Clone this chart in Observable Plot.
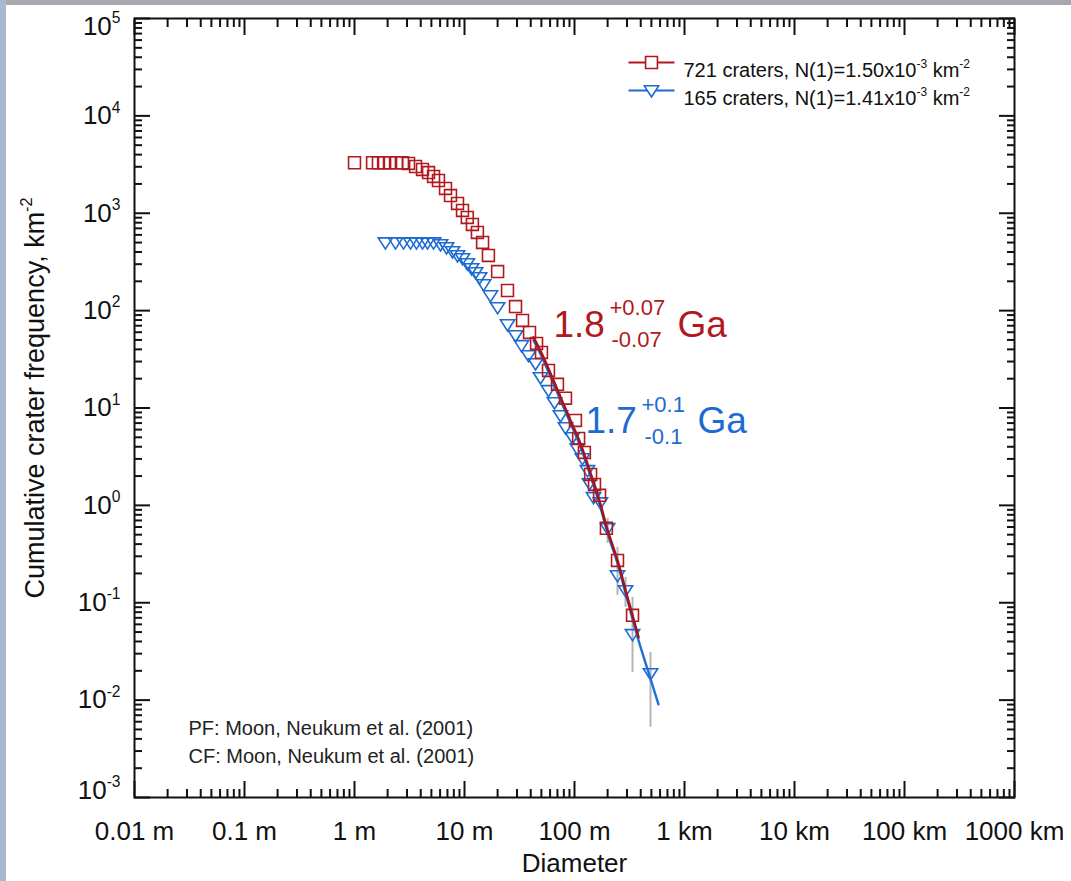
<!DOCTYPE html>
<html><head><meta charset="utf-8">
<script src="https://cdn.jsdelivr.net/npm/d3@7"></script>
<script src="https://cdn.jsdelivr.net/npm/@observablehq/plot@0.6"></script>
<style>
body{margin:0;background:#fff;font-family:"Liberation Sans",Arial,Helvetica,sans-serif;}
#wrap{position:relative;width:1071px;height:881px;overflow:hidden;background:#fff;}
#topbar{position:absolute;left:0;top:0;width:1071px;height:5px;background:#a5a9ae;}
#leftbar{position:absolute;left:0;top:0;width:6px;height:881px;background:#a8b8cd;}
</style></head><body>
<div id="wrap"><div id="chart"></div><div id="topbar"></div><div id="leftbar"></div></div>
<script>
// ---- data (diameter in metres, cumulative frequency in km^-2) ----
const redD = [1.0, 1.46, 1.65, 1.84, 2.08, 2.41, 2.73, 3.10, 3.59, 4.15, 4.71, 5.23, 5.80, 6.72, 7.46, 8.64, 9.59, 10.6, 11.8, 13.1, 14.6, 16.5, 20.0, 24.6, 29.1, 33.7, 39.0, 45.2, 50.1, 58.0, 70.0, 82.8, 102, 109, 123, 140, 152, 169, 195, 246, 337];
const redN = [3300, 3300, 3300, 3300, 3300, 3300, 3300, 3250, 3020, 2820, 2620, 2390, 2170, 1800, 1520, 1260, 1070, 905, 767, 635, 501, 369, 252, 161, 110, 79.3, 59.7, 46.0, 37.2, 24.3, 17.5, 12.6, 7.46, 4.87, 3.50, 2.08, 1.64, 1.27, 0.581, 0.272, 0.0743];

const blueD = [1.91, 2.36, 2.79, 3.23, 3.66, 4.15, 4.61, 5.23, 6.05, 6.86, 7.78, 8.64, 9.59, 10.6, 11.6, 12.6, 13.7, 14.9, 17.2, 20.0, 24.6, 29.1, 33.0, 38.2, 44.2, 49.1, 58.0, 65.8, 74.6, 82.8, 95.9, 106, 118, 131, 137, 149, 172, 200, 246, 291, 337, 491];
const blueN = [500, 500, 500, 500, 500, 500, 500, 500, 478, 446, 405, 369, 344, 305, 271, 247, 219, 186, 143, 108, 72.1, 55.6, 44.0, 34.7, 28.7, 20.6, 15.2, 11.4, 8.39, 6.32, 4.99, 3.85, 3.04, 2.29, 1.68, 1.21, 1.07, 0.581, 0.191, 0.134, 0.0474, 0.0188];

const errD  = [200, 246, 291, 337, 491];
const errLo = [0.407, 0.119, 0.0897, 0.0193, 0.00526];
const errHi = [0.736, 0.371, 0.182, 0.1135, 0.031];

const redFitD = [42.4, 51.2, 60.5, 74.6, 92.0, 113, 140, 165, 200, 246, 303, 382];
const redFitN = [53.1, 34.7, 22.6, 12.9, 7.46, 4.33, 2.13, 1.21, 0.553, 0.272, 0.1135, 0.0442];
const blueFitD = [42.4, 51.2, 60.5, 74.6, 92.0, 113, 140, 165, 200, 246, 303, 382, 471, 580];
const blueFitN = [49.4, 32.3, 21.0, 12.0, 6.95, 4.03, 1.98, 1.13, 0.515, 0.253, 0.106, 0.0411, 0.0193, 0.00906];

const xTickValues = [0.01, 0.1, 1, 10, 100, 1000, 1e4, 1e5, 1e6];
const xTickLabels = ["0.01 m", "0.1 m", "1 m", "10 m", "100 m", "1 km", "10 km", "100 km", "1000 km"];
const yTickValues = [1e-3, 1e-2, 1e-1, 1, 10, 100, 1e3, 1e4, 1e5];
const yTickLabels = ["10^{-3}", "10^{-2}", "10^{-1}", "10^{0}", "10^{1}", "10^{2}", "10^{3}", "10^{4}", "10^{5}"];

const seriesNames = ["721 craters, N(1)=1.50x10^{-3} km^{-2}", "165 craters, N(1)=1.41x10^{-3} km^{-2}"];
const notes = ["PF: Moon, Neukum et al. (2001)", "CF: Moon, Neukum et al. (2001)"];

// ---- styling ----
const RED = "#b0191d", BLUE = "#1c6bd2", REDLINE = "#a3141a", BLUELINE = "#1f6fd8";
const red = redD.map((D, i) => ({D, N: redN[i]}));
const blue = blueD.map((D, i) => ({D, N: blueN[i]}));
const err = errD.map((D, i) => ({D, lo: errLo[i], hi: errHi[i]}));
const redFit = redFitD.map((D, i) => ({D, N: redFitN[i]}));
const blueFit = blueFitD.map((D, i) => ({D, N: blueFitN[i]}));

const xMinor = [], yMinor = [];
for (let e = -2; e <= 5; e++) for (let k = 2; k <= 9; k++) xMinor.push(k * Math.pow(10, e));
for (let e = -3; e <= 4; e++) for (let k = 2; k <= 9; k++) yMinor.push(k * Math.pow(10, e));
const xLab = new Map(xTickValues.map((v, i) => [v, xTickLabels[i]]));
const yLab = new Map(yTickValues.map((v, i) => [v, yTickLabels[i]]));

const squareSym = {draw(ctx, size) { const r = Math.sqrt(size / Math.PI) * 0.9; ctx.rect(-r, -r, 2 * r, 2 * r); }};
const triSym = {draw(ctx, size) { const r = Math.sqrt(size / Math.PI); ctx.moveTo(-1.1 * r, -0.72 * r); ctx.lineTo(1.1 * r, -0.72 * r); ctx.lineTo(0, 1.0 * r); ctx.closePath(); }};
const lineSym = {draw(ctx, size) { ctx.moveTo(-23, 0); ctx.lineTo(23, 0); }};

const none = () => "";
const tick = (anchor, vals, size) =>
  (anchor === "top" || anchor === "bottom")
    ? Plot.axisX(vals, {anchor, tickSize: -size, tickFormat: none, label: null, strokeWidth: 2})
    : Plot.axisY(vals, {anchor, tickSize: -size, tickFormat: none, label: null, strokeWidth: 2});

const ann = [
  {t: "1.8", dx: 553 - 134, dy: 336 - 18, s: 37, c: RED},
  {t: "+0.07", dx: 609 - 134, dy: 314 - 18, s: 22, c: RED},
  {t: "-0.07", dx: 611 - 134, dy: 346 - 18, s: 22, c: RED},
  {t: "Ga", dx: 677 - 134, dy: 336 - 18, s: 37, c: RED},
  {t: "1.7", dx: 585 - 134, dy: 432 - 18, s: 37, c: BLUE},
  {t: "+0.1", dx: 641 - 134, dy: 411 - 18, s: 22, c: BLUE},
  {t: "-0.1", dx: 644 - 134, dy: 443 - 18, s: 22, c: BLUE},
  {t: "Ga", dx: 697 - 134, dy: 432 - 18, s: 37, c: BLUE}
];

const chart = Plot.plot({
  width: 1071, height: 881,
  marginLeft: 134, marginRight: 57, marginTop: 18, marginBottom: 84,
  style: {fontFamily: "'Liberation Sans', Arial, Helvetica, sans-serif", background: "transparent", color: "#111"},
  x: {type: "log", domain: [0.01, 1e6], label: null},
  y: {type: "log", domain: [1e-3, 1e5], label: null},
  marks: [
    Plot.frame({stroke: "#111", strokeWidth: 2}),
    tick("bottom", xTickValues, 16), tick("bottom", xMinor, 8),
    tick("top", xTickValues, 16), tick("top", xMinor, 8),
    tick("left", yTickValues, 16), tick("left", yMinor, 8),
    tick("right", yTickValues, 16), tick("right", yMinor, 8),
    Plot.axisX(xTickValues, {anchor: "bottom", tickSize: 0, tickPadding: 24, tickFormat: d => xLab.get(d), fontSize: 26, label: null}),
    Plot.axisY(yTickValues, {anchor: "left", tickSize: 0, tickPadding: 14, tickFormat: d => yLab.get(d), fontSize: 26, label: null}),
    Plot.text(["Diameter"], {text: d => d, frameAnchor: "bottom", dy: 74, fontSize: 26, fill: "#111"}),
    Plot.text(["Cumulative crater frequency, km^{-2}"], {text: d => d, frameAnchor: "left", textAnchor: "middle", dx: -99, dy: -10, rotate: -90, fontSize: 27, fill: "#111"}),
    // error bars
    Plot.ruleX(err, {x: "D", y1: "lo", y2: "hi", stroke: "#b5b5b5", strokeWidth: 2}),
    // blue series
    Plot.dot(blue, {x: "D", y: "N", symbol: triSym, r: 6.5, stroke: BLUE, fill: "none", strokeWidth: 1.6}),
    Plot.line(blueFit, {x: "D", y: "N", stroke: BLUELINE, strokeWidth: 2.4, curve: "monotone-x"}),
    // red series
    Plot.line(redFit, {x: "D", y: "N", stroke: REDLINE, strokeWidth: 2.6, curve: "monotone-x"}),
    Plot.dot(red, {x: "D", y: "N", symbol: squareSym, r: 6.6, stroke: RED, fill: "none", strokeWidth: 1.6}),
    // legend
    Plot.dot([0], {frameAnchor: "top-left", dx: 651 - 134, dy: 62 - 18, symbol: lineSym, r: 5, stroke: RED, strokeWidth: 2}),
    Plot.dot([0], {frameAnchor: "top-left", dx: 651 - 134, dy: 62 - 18, symbol: squareSym, r: 6.6, stroke: RED, fill: "white", strokeWidth: 1.6}),
    Plot.text([seriesNames[0]], {text: d => d, frameAnchor: "top-left", dx: 683 - 134, dy: 62 - 18, textAnchor: "start", fontSize: 20, fill: "#111"}),
    Plot.dot([0], {frameAnchor: "top-left", dx: 651 - 134, dy: 90 - 18, symbol: lineSym, r: 5, stroke: BLUE, strokeWidth: 2}),
    Plot.dot([0], {frameAnchor: "top-left", dx: 651 - 134, dy: 90 - 18, symbol: triSym, r: 6.5, stroke: BLUE, fill: "white", strokeWidth: 1.6}),
    Plot.text([seriesNames[1]], {text: d => d, frameAnchor: "top-left", dx: 683 - 134, dy: 90 - 18, textAnchor: "start", fontSize: 20, fill: "#111"}),
    // notes
    ...notes.map((n, i) => Plot.text([n], {text: d => d, frameAnchor: "top-left", dx: 188 - 134, dy: 720 - 18 + 28 * i, textAnchor: "start", fontSize: 20, fill: "#222"})),
    // age annotations
    ...ann.map(a => Plot.text([a.t], {text: d => d, frameAnchor: "top-left", dx: a.dx, dy: a.dy, textAnchor: "start", lineAnchor: "bottom", fontSize: a.s, fill: a.c}))
  ]
});
document.getElementById("chart").appendChild(chart);

// rich text: ^{...} superscripts
const NS = "http://www.w3.org/2000/svg";
chart.querySelectorAll("text").forEach(t => {
  const s = t.textContent;
  if (!/\^\{/.test(s)) return;
  const fs = parseFloat(getComputedStyle(t).fontSize) || 20;
  // keep end labels of the y axis inside the axis range, as in the reference
  const nudge = s === "10^{5}" ? 8 : s === "10^{-3}" ? -7 : 0;
  const parts = s.split(/(\^\{[^}]*\})/).filter(p => p.length);
  t.textContent = "";
  let cur = 0, first = true;
  parts.forEach(p => {
    const ts = document.createElementNS(NS, "tspan");
    let target = 0;
    if (p.startsWith("^{")) {
      target = -0.45 * fs;
      ts.setAttribute("font-size", (0.6 * fs).toFixed(1));
      ts.textContent = p.slice(2, -1);
    } else {
      ts.textContent = p;
    }
    let dy = target - cur + (first ? nudge : 0);
    if (dy !== 0) ts.setAttribute("dy", dy.toFixed(1));
    cur = target; first = false;
    t.appendChild(ts);
  });
});
</script>
</body></html>
